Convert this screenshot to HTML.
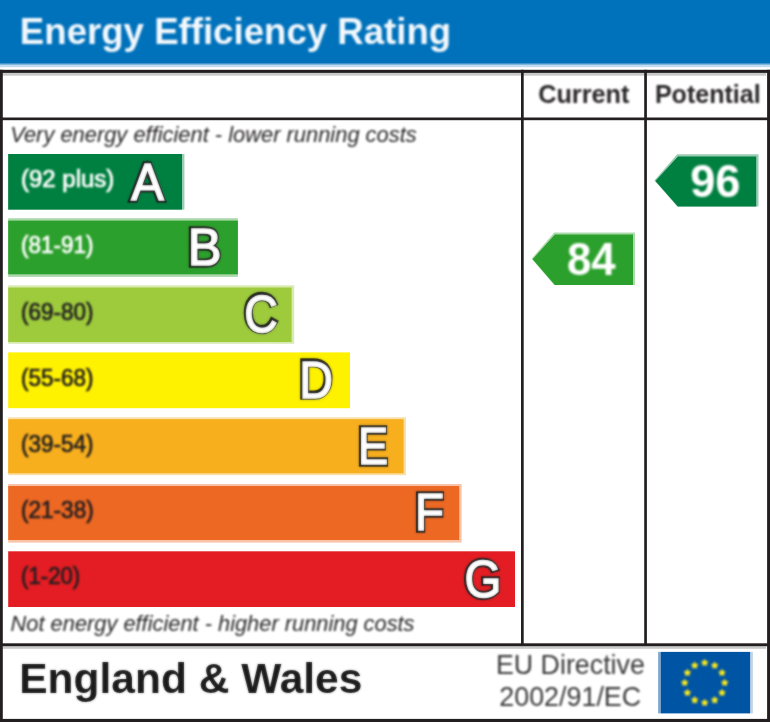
<!DOCTYPE html>
<html><head><meta charset="utf-8"><title>Energy Efficiency Rating</title>
<style>
html,body{margin:0;padding:0;background:#fff;}
body{width:770px;height:722px;overflow:hidden;font-family:"Liberation Sans",Arial,sans-serif;}
svg{display:block;}
</style></head><body>
<svg width="770" height="722" viewBox="0 0 770 722">
<defs><filter id="letf" x="0" y="0" width="770" height="722" filterUnits="userSpaceOnUse" color-interpolation-filters="sRGB"><feGaussianBlur stdDeviation="0.9" result="b"/><feComposite in="SourceGraphic" in2="b" operator="arithmetic" k1="0" k2="0.45" k3="0.55" k4="0"/></filter><filter id="softer" x="0" y="0" width="770" height="722" filterUnits="userSpaceOnUse" color-interpolation-filters="sRGB"><feGaussianBlur stdDeviation="0.9"/></filter></defs>
<rect x="0" y="0" width="770" height="722" fill="#fff"/>
<g>
<rect x="-5" y="-5" width="780" height="732" fill="#fff"/>
<!-- header -->
<rect x="-5" y="-5" width="780" height="68.8" fill="#0072bc"/>
<rect x="-5" y="63.8" width="780" height="1.2" fill="#7fb8dd"/>
<rect x="-5" y="65" width="780" height="2.2" fill="#c2dcef"/>
<!-- frame -->
<g fill="#c9c9c9">
<rect x="2.8" y="72.9" width="763.4" height="2.8"/>
<rect x="2.8" y="646.2" width="763.4" height="2.6"/>
</g>
<g fill="#231f20">
<rect x="-5" y="69.8" width="780" height="3.1"/>
<rect x="-5" y="69.8" width="7.8" height="660"/>
<rect x="767.1" y="69.8" width="10" height="660"/>
<rect x="-5" y="718.9" width="780" height="10"/>
<rect x="-5" y="117.5" width="780" height="2.7"/>
<rect x="-5" y="643.3" width="780" height="2.9"/>
<rect x="521.0" y="69.8" width="2.7" height="576"/>
<rect x="644.2" y="69.8" width="2.7" height="576"/>
</g>
<!-- rating bars -->
<rect x="8.2" y="154.0" width="176.2" height="55.6" fill="#008040" opacity="0.4"/>
<rect x="8.2" y="154.0" width="173.8" height="55.6" fill="#008040"/>
<rect x="8.2" y="218.2" width="229.7" height="58.7" fill="#2ca02c" opacity="0.4"/>
<rect x="8.2" y="220.6" width="229.7" height="53.7" fill="#2ca02c"/>
<rect x="8.2" y="285.3" width="286.0" height="58.5" fill="#9dcb3c" opacity="0.4"/>
<rect x="8.2" y="287.5" width="283.4" height="54.5" fill="#9dcb3c"/>
<rect x="8.2" y="352.4" width="341.8" height="55.8" fill="#fff200"/>
<rect x="8.2" y="417.3" width="397.8" height="57.9" fill="#f7af1d" opacity="0.4"/>
<rect x="8.2" y="419.2" width="395.4" height="54.1" fill="#f7af1d"/>
<rect x="8.2" y="484.0" width="453.4" height="58.6" fill="#ed6823" opacity="0.4"/>
<rect x="8.2" y="486.0" width="451.0" height="54.0" fill="#ed6823"/>
<rect x="8.2" y="551.3" width="506.8" height="55.7" fill="#e31d23"/>
<!-- arrows -->
<polygon points="654.4,180.5 677.2,154.3 758.5,154.3 758.5,206.6 677.2,206.6" fill="#008040" opacity="0.4"/>
<polygon points="655.4,181 677.9,156.5 756.2,156.5 756.2,206.6 677.9,206.6" fill="#008040"/>
<polygon points="531.6,258.8 554.2,232.6 635,232.6 635,285 554.2,285" fill="#2ca02c" opacity="0.4"/>
<polygon points="532.6,259.2 554.9,234.6 633,234.6 633,285 554.9,285" fill="#2ca02c"/>
<!-- EU flag -->
<rect x="658.1" y="651.9" width="2.9" height="61.5" fill="#0054a4" opacity="0.5"/>
<rect x="750" y="651.9" width="2.9" height="61.5" fill="#0054a4" opacity="0.25"/>
<rect x="660.9" y="651.9" width="89.2" height="61.5" fill="#0054a4"/>
</g>
<g filter="url(#softer)">
<g fill="#f8e81c">
<polygon points="704.70,658.70 706.03,660.98 708.60,661.53 706.84,663.50 707.11,666.12 704.70,665.05 702.29,666.12 702.56,663.50 700.80,661.53 703.37,660.98"/>
<polygon points="714.70,661.38 716.03,663.66 718.60,664.21 716.84,666.18 717.11,668.80 714.70,667.73 712.29,668.80 712.56,666.18 710.80,664.21 713.37,663.66"/>
<polygon points="722.02,668.70 723.35,670.98 725.92,671.53 724.17,673.50 724.43,676.12 722.02,675.05 719.61,676.12 719.88,673.50 718.12,671.53 720.70,670.98"/>
<polygon points="724.70,678.70 726.03,680.98 728.60,681.53 726.84,683.50 727.11,686.12 724.70,685.05 722.29,686.12 722.56,683.50 720.80,681.53 723.37,680.98"/>
<polygon points="722.02,688.70 723.35,690.98 725.92,691.53 724.17,693.50 724.43,696.12 722.02,695.05 719.61,696.12 719.88,693.50 718.12,691.53 720.70,690.98"/>
<polygon points="714.70,696.02 716.03,698.30 718.60,698.85 716.84,700.82 717.11,703.44 714.70,702.38 712.29,703.44 712.56,700.82 710.80,698.85 713.37,698.30"/>
<polygon points="704.70,698.70 706.03,700.98 708.60,701.53 706.84,703.50 707.11,706.12 704.70,705.05 702.29,706.12 702.56,703.50 700.80,701.53 703.37,700.98"/>
<polygon points="694.70,696.02 696.03,698.30 698.60,698.85 696.84,700.82 697.11,703.44 694.70,702.38 692.29,703.44 692.56,700.82 690.80,698.85 693.37,698.30"/>
<polygon points="687.38,688.70 688.70,690.98 691.28,691.53 689.52,693.50 689.79,696.12 687.38,695.05 684.97,696.12 685.23,693.50 683.48,691.53 686.05,690.98"/>
<polygon points="684.70,678.70 686.03,680.98 688.60,681.53 686.84,683.50 687.11,686.12 684.70,685.05 682.29,686.12 682.56,683.50 680.80,681.53 683.37,680.98"/>
<polygon points="687.38,668.70 688.70,670.98 691.28,671.53 689.52,673.50 689.79,676.12 687.38,675.05 684.97,676.12 685.23,673.50 683.48,671.53 686.05,670.98"/>
<polygon points="694.70,661.38 696.03,663.66 698.60,664.21 696.84,666.18 697.11,668.80 694.70,667.73 692.29,668.80 692.56,666.18 690.80,664.21 693.37,663.66"/>
</g>
<!-- text -->
<text x="19.86" y="44.00" font-family="Liberation Sans, Arial, sans-serif" font-weight="bold" font-style="normal" font-size="37.5" fill="#fff" textLength="431.31" lengthAdjust="spacingAndGlyphs" fill-opacity="0.95">Energy Efficiency Rating</text>
<text x="538.13" y="102.60" font-family="Liberation Sans, Arial, sans-serif" font-weight="bold" font-style="normal" font-size="26.0" fill="#2b2829" textLength="91.32" lengthAdjust="spacingAndGlyphs">Current</text>
<text x="654.92" y="102.60" font-family="Liberation Sans, Arial, sans-serif" font-weight="bold" font-style="normal" font-size="26.0" fill="#2b2829" textLength="105.72" lengthAdjust="spacingAndGlyphs">Potential</text>
<text x="10.18" y="142.40" font-family="Liberation Sans, Arial, sans-serif" font-weight="normal" font-style="italic" font-size="22.75" fill="#2b2829" textLength="406.52" lengthAdjust="spacingAndGlyphs">Very energy efficient - lower running costs</text>
<text x="10.58" y="631.20" font-family="Liberation Sans, Arial, sans-serif" font-weight="normal" font-style="italic" font-size="22.75" fill="#2b2829" textLength="403.96" lengthAdjust="spacingAndGlyphs">Not energy efficient - higher running costs</text>
<text x="21.00" y="187.10" font-family="Liberation Sans, Arial, sans-serif" font-weight="normal" font-style="normal" font-size="23.0" fill="#fff" textLength="93.25" lengthAdjust="spacingAndGlyphs" stroke="#fff" stroke-width="0.7">(92 plus)</text>
<text x="21.08" y="253.30" font-family="Liberation Sans, Arial, sans-serif" font-weight="normal" font-style="normal" font-size="23.0" fill="#fff" textLength="72.39" lengthAdjust="spacingAndGlyphs" stroke="#fff" stroke-width="0.7">(81-91)</text>
<text x="21.08" y="319.50" font-family="Liberation Sans, Arial, sans-serif" font-weight="normal" font-style="normal" font-size="23.0" fill="#231f20" textLength="72.39" lengthAdjust="spacingAndGlyphs" stroke="#231f20" stroke-width="0.7">(69-80)</text>
<text x="21.08" y="385.70" font-family="Liberation Sans, Arial, sans-serif" font-weight="normal" font-style="normal" font-size="23.0" fill="#231f20" textLength="72.39" lengthAdjust="spacingAndGlyphs" stroke="#231f20" stroke-width="0.7">(55-68)</text>
<text x="21.08" y="451.90" font-family="Liberation Sans, Arial, sans-serif" font-weight="normal" font-style="normal" font-size="23.0" fill="#231f20" textLength="72.39" lengthAdjust="spacingAndGlyphs" stroke="#231f20" stroke-width="0.7">(39-54)</text>
<text x="21.08" y="518.10" font-family="Liberation Sans, Arial, sans-serif" font-weight="normal" font-style="normal" font-size="23.0" fill="#231f20" textLength="72.60" lengthAdjust="spacingAndGlyphs" stroke="#231f20" stroke-width="0.7">(21-38)</text>
<text x="21.10" y="584.30" font-family="Liberation Sans, Arial, sans-serif" font-weight="normal" font-style="normal" font-size="23.0" fill="#231f20" textLength="59.11" lengthAdjust="spacingAndGlyphs" stroke="#231f20" stroke-width="0.7">(1-20)</text>
<text x="690.14" y="196.60" font-family="Liberation Sans, Arial, sans-serif" font-weight="bold" font-style="normal" font-size="46.4" fill="#fff" textLength="50.33" lengthAdjust="spacingAndGlyphs">96</text>
<text x="566.88" y="275.20" font-family="Liberation Sans, Arial, sans-serif" font-weight="bold" font-style="normal" font-size="46.4" fill="#fff" textLength="48.72" lengthAdjust="spacingAndGlyphs">84</text>
<text x="495.95" y="673.50" font-family="Liberation Sans, Arial, sans-serif" font-weight="normal" font-style="normal" font-size="28.0" fill="#3a3a3a" textLength="148.90" lengthAdjust="spacingAndGlyphs">EU Directive</text>
<text x="499.30" y="706.30" font-family="Liberation Sans, Arial, sans-serif" font-weight="normal" font-style="normal" font-size="28.0" fill="#3a3a3a" textLength="141.89" lengthAdjust="spacingAndGlyphs">2002/91/EC</text>
</g><g filter="url(#letf)">
<text x="19.29" y="693.40" font-family="Liberation Sans, Arial, sans-serif" font-weight="bold" font-style="normal" font-size="41.6" fill="#1a1a1a" textLength="343.08" lengthAdjust="spacingAndGlyphs">England &amp; Wales</text>
<text x="130.71" y="199.70" font-family="Liberation Sans, Arial, sans-serif" font-weight="normal" font-size="52.6" fill="#1a1a1a" stroke="#1a1a1a" stroke-width="5.4" stroke-linejoin="miter" textLength="32.57" lengthAdjust="spacingAndGlyphs">A</text>
<text x="131.31" y="200.30" font-family="Liberation Sans, Arial, sans-serif" font-weight="normal" font-size="52.6" fill="#fff" stroke="#fff" stroke-width="1.6" stroke-linejoin="miter" textLength="32.57" lengthAdjust="spacingAndGlyphs">A</text>
<text x="187.25" y="264.68" font-family="Liberation Sans, Arial, sans-serif" font-weight="normal" font-size="52.6" fill="#1a1a1a" stroke="#1a1a1a" stroke-width="5.4" stroke-linejoin="miter" textLength="33.84" lengthAdjust="spacingAndGlyphs">B</text>
<text x="187.85" y="265.28" font-family="Liberation Sans, Arial, sans-serif" font-weight="normal" font-size="52.6" fill="#fff" stroke="#fff" stroke-width="1.6" stroke-linejoin="miter" textLength="33.84" lengthAdjust="spacingAndGlyphs">B</text>
<text x="243.72" y="331.12" font-family="Liberation Sans, Arial, sans-serif" font-weight="normal" font-size="52.6" fill="#1a1a1a" stroke="#1a1a1a" stroke-width="5.4" stroke-linejoin="miter" textLength="33.53" lengthAdjust="spacingAndGlyphs">C</text>
<text x="244.32" y="331.73" font-family="Liberation Sans, Arial, sans-serif" font-weight="normal" font-size="52.6" fill="#fff" stroke="#fff" stroke-width="1.6" stroke-linejoin="miter" textLength="33.53" lengthAdjust="spacingAndGlyphs">C</text>
<text x="298.68" y="397.32" font-family="Liberation Sans, Arial, sans-serif" font-weight="normal" font-size="52.6" fill="#1a1a1a" stroke="#1a1a1a" stroke-width="5.4" stroke-linejoin="miter" textLength="33.68" lengthAdjust="spacingAndGlyphs">D</text>
<text x="299.28" y="397.93" font-family="Liberation Sans, Arial, sans-serif" font-weight="normal" font-size="52.6" fill="#fff" stroke="#fff" stroke-width="1.6" stroke-linejoin="miter" textLength="33.68" lengthAdjust="spacingAndGlyphs">D</text>
<text x="357.39" y="463.82" font-family="Liberation Sans, Arial, sans-serif" font-weight="normal" font-size="52.6" fill="#1a1a1a" stroke="#1a1a1a" stroke-width="5.4" stroke-linejoin="miter" textLength="30.19" lengthAdjust="spacingAndGlyphs">E</text>
<text x="357.99" y="464.43" font-family="Liberation Sans, Arial, sans-serif" font-weight="normal" font-size="52.6" fill="#fff" stroke="#fff" stroke-width="1.6" stroke-linejoin="miter" textLength="30.19" lengthAdjust="spacingAndGlyphs">E</text>
<text x="414.51" y="529.68" font-family="Liberation Sans, Arial, sans-serif" font-weight="normal" font-size="52.6" fill="#1a1a1a" stroke="#1a1a1a" stroke-width="5.4" stroke-linejoin="miter" textLength="28.97" lengthAdjust="spacingAndGlyphs">F</text>
<text x="415.11" y="530.27" font-family="Liberation Sans, Arial, sans-serif" font-weight="normal" font-size="52.6" fill="#fff" stroke="#fff" stroke-width="1.6" stroke-linejoin="miter" textLength="28.97" lengthAdjust="spacingAndGlyphs">F</text>
<text x="463.97" y="596.58" font-family="Liberation Sans, Arial, sans-serif" font-weight="normal" font-size="52.6" fill="#1a1a1a" stroke="#1a1a1a" stroke-width="5.4" stroke-linejoin="miter" textLength="36.90" lengthAdjust="spacingAndGlyphs">G</text>
<text x="464.57" y="597.17" font-family="Liberation Sans, Arial, sans-serif" font-weight="normal" font-size="52.6" fill="#fff" stroke="#fff" stroke-width="1.6" stroke-linejoin="miter" textLength="36.90" lengthAdjust="spacingAndGlyphs">G</text>
</g>
</svg>
</body></html>
